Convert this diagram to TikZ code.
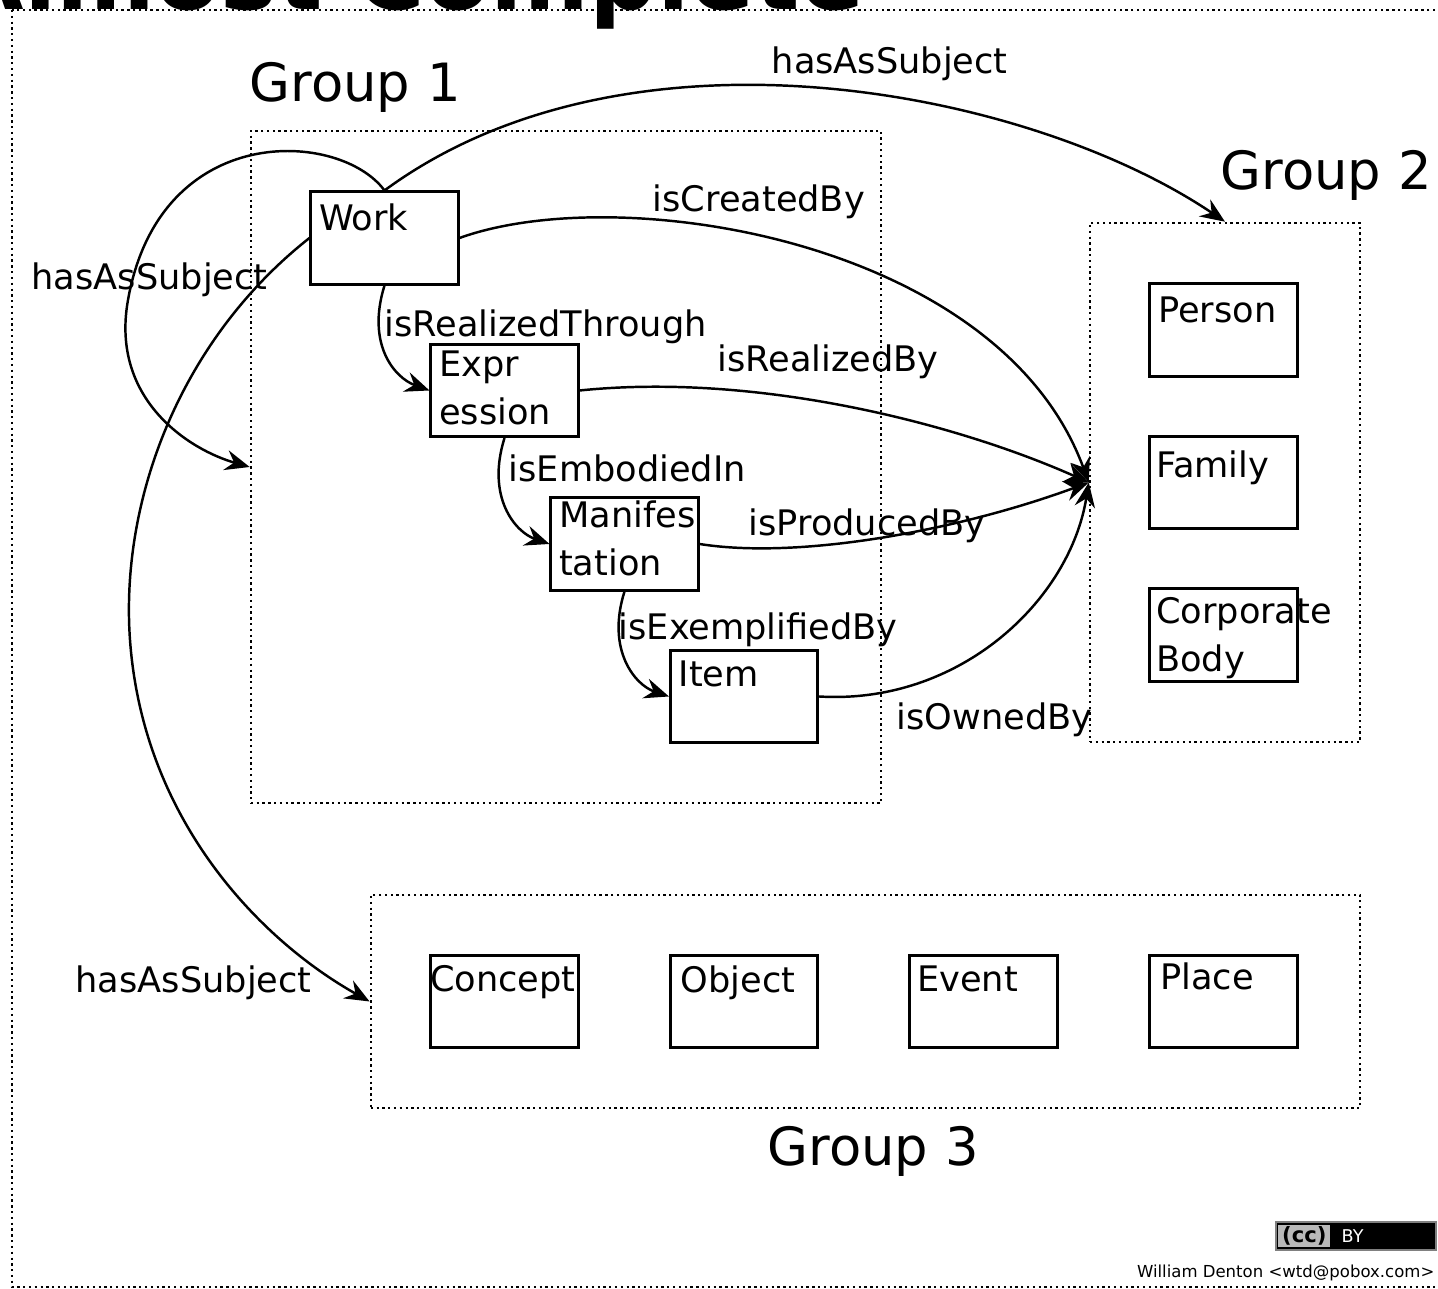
\documentclass[tikz,border=0pt]{standalone}
\usepackage{fontspec}
\setmainfont{DejaVu Sans}
\usepackage{tikz}
\usetikzlibrary{arrows.meta}
\tikzstyle{entity} = [rectangle, draw=black, line width=0.85pt, minimum width=1.47cm, minimum height=0.92cm, inner sep=0pt]
\tikzstyle{group} = [rectangle, draw=black, densely dotted, line width=0.65pt, inner sep=0pt]
\tikzstyle{frame} = [draw=black, densely dotted, line width=0.65pt]
\tikzstyle{tag} = [anchor=north west, inner sep=0pt, align=left, xshift=0.09cm, yshift=-0.11cm]
\tikzstyle{rel} = [anchor=base west, inner sep=0pt]
\tikzstyle{grouplabel} = [anchor=base west, inner sep=0pt, font=\fontsize{15}{18}\selectfont]
\tikzstyle{arrow} = [line width=0.7pt, ->, >={Stealth[length=7pt, width=5.8pt, inset=2.4pt]}]

\begin{document}
\begin{tikzpicture}[x=0.01cm, y=-0.01cm, font=\fontsize{10}{13.6}\selectfont]
        \useasboundingbox (0,0) rectangle (1438,1289);
        \draw [frame] (12,10) rectangle (1460,1287);
        \node (title) [anchor=base west, inner sep=0pt, font=\fontsize{27}{30}\selectfont\bfseries] at (-50,10) {Almost Complete};
        % groups
        \node (g1) [group, minimum width=6.3cm, minimum height=6.72cm] at (566,467) {};
        \node (g2) [group, minimum width=2.7cm, minimum height=5.19cm] at (1225,482.5) {};
        \node (g3) [group, minimum width=9.89cm, minimum height=2.13cm] at (865.5,1001.5) {};
        \node (g1name) [grouplabel] at (249,102) {Group 1};
        \node (g2name) [grouplabel] at (1220,190) {Group 2};
        \node (g3name) [grouplabel] at (767,1166) {Group 3};
        % group 1
        \node (work) [entity, label={[tag, yshift=-0.02cm, name=workt]north west:Work}] at (384.5,238) {};
        \node (expr) [entity, label={[tag, yshift=0.04cm, name=exprt]north west:Expr\\ession}] at (504.5,390.5) {};
        \node (manif) [entity, label={[tag, yshift=0.07cm, name=manift]north west:Manifes\\tation}] at (624.5,544) {};
        \node (item) [entity, label={[tag, name=itemt]north west:Item}] at (744,696.5) {};
        % group 2
        \node (person) [entity, label={[tag, yshift=-0.03cm, name=persont]north west:Person}] at (1223.5,330) {};
        \node (family) [entity, label={[tag, xshift=-0.02cm, yshift=-0.04cm, name=familyt]north west:Family}] at (1223.5,482.5) {};
        \node (corp) [entity, label={[tag, xshift=-0.02cm, yshift=0.02cm, name=corpt]north west:Corporate\\Body}] at (1223.5,635) {};
        % group 3
        \node (concept) [entity, label={[tag, xshift=-0.09cm, name=conceptt]north west:Concept}] at (504.5,1001.5) {};
        \node (object) [entity, label={[tag, xshift=0.02cm, name=objectt]north west:Object}] at (744,1001.5) {};
        \node (event) [entity, label={[tag, xshift=-0.01cm, name=eventt]north west:Event}] at (983.5,1001.5) {};
        \node (place) [entity, label={[tag, xshift=0.02cm, yshift=0.03cm, name=placet]north west:Place}] at (1223.5,1001.5) {};
        % relationships
        \draw [arrow] (work.south) .. controls (366,345) and (395,378) .. (expr.west);
        \node (realthrough) [rel] at (384,337) {isRealizedThrough};
        \draw [arrow] (expr.south) .. controls (486,497) and (515,532) .. (manif.west);
        \node (embodied) [rel] at (508,482) {isEmbodiedIn};
        \draw [arrow] (manif.south) .. controls (606,650) and (635,685) .. (item.west);
        \node (exemplified) [rel] at (618,640) {isExemplifiedBy};
        \draw [arrow] (work.east) .. controls (620,180) and (1000,240) .. (g2.west);
        \node (created) [rel] at (652,212) {isCreatedBy};
        \draw [arrow] (expr.east) .. controls (760,372) and (960,425) .. (g2.west);
        \node (realby) [rel] at (717,372) {isRealizedBy};
        \draw [arrow] (manif.east) .. controls (800,560) and (960,530) .. (g2.west);
        \node (produced) [rel] at (748,536) {isProducedBy};
        \draw [arrow] (item.east) .. controls (960,705) and (1070,600) .. (g2.west);
        \node (owned) [rel] at (896,730) {isOwnedBy};
        \draw [arrow] (work.north) .. controls (630,10) and (1030,90) .. (g2.north);
        \node (subjtop) [rel] at (771,74) {hasAsSubject};
        \draw [arrow] (work.north) .. controls (340,130) and (160,120) .. (128,300) .. controls (110,400) and (190,450) .. (g1.west);
        \node (subjleft) [rel] at (31,290) {hasAsSubject};
        \draw [arrow] (work.west) .. controls (180,340) and (120,500) .. (130,640) .. controls (143,820) and (260,940) .. (g3.west);
        \node (subjbottom) [rel] at (75,993) {hasAsSubject};
        % licence badge and credit
        \node (badge) [draw=gray, line width=0.8pt, fill=black, minimum width=1.6cm, minimum height=0.28cm, inner sep=0pt] at (1356,1236) {};
        \node (ccpart) [fill=gray!55, minimum width=0.52cm, minimum height=0.22cm, inner sep=0pt, anchor=west] at ([xshift=0.03cm]badge.west) {};
        \node (cclogo) [font=\fontsize{6}{6}\selectfont\bfseries, inner sep=0pt] at (ccpart) {(cc)};
        \node (byword) [font=\fontsize{5}{5}\selectfont, text=white, inner sep=0pt, anchor=west] at ([xshift=0.1cm]ccpart.east) {BY};
        \node (credit) [anchor=base east, inner sep=0pt, font=\fontsize{4.7}{5}\selectfont] at (1435,1278) {William Denton <wtd@pobox.com>};
\end{tikzpicture}
\end{document}
